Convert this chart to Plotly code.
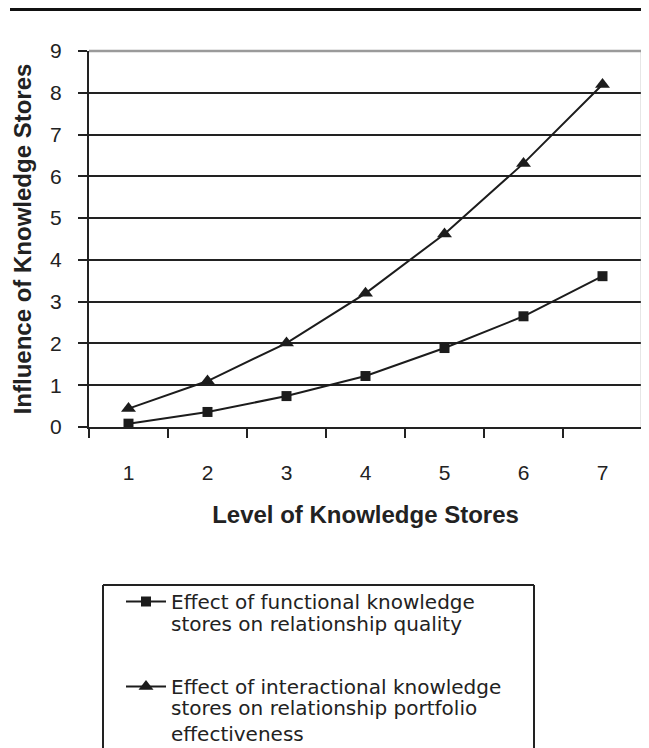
import plotly.graph_objects as go

# ---- data ----
levels = ["1", "2", "3", "4", "5", "6", "7"]
functional_quality = [0.08, 0.36, 0.74, 1.22, 1.89, 2.65, 3.61]
interactional_portfolio = [0.44, 1.10, 2.01, 3.20, 4.62, 6.31, 8.20]
y_tick_values = [0, 1, 2, 3, 4, 5, 6, 7, 8, 9]
legend_first_lines = ["Effect of functional knowledge",
                      "Effect of interactional knowledge"]
legend_more_lines = [["stores on relationship quality"],
                     ["stores on relationship portfolio", "effectiveness"]]
x_title = "Level of Knowledge Stores"
y_title = "Influence of Knowledge Stores"

# ---- geometry (page pixels; the page body has an 8px margin) ----
OFF = 8
PAGE_W, PAGE_H = 649, 748
W, H = PAGE_W - OFF, PAGE_H - OFF
PLOT_L, PLOT_R, PLOT_T, PLOT_B = 89, 642, 51, 427   # plot area on the page
L = PLOT_L - OFF
T = PLOT_T - OFF
R = PAGE_W - PLOT_R
B = PAGE_H - PLOT_B
PW = PLOT_R - PLOT_L
PH = PLOT_B - PLOT_T


def px(x):
    return (x - PLOT_L) / PW


def py(y):
    return (PLOT_B - y) / PH


INK = "#1c1c1c"
AX_FONT = "Liberation Sans, Arial, sans-serif"
LEG_FONT = "DejaVu Sans, Liberation Sans, sans-serif"
LEG_SIZE = 20

fig = go.Figure()
fig.add_trace(go.Scatter(
    x=levels, y=functional_quality, mode="lines+markers",
    name=legend_first_lines[0], legendgroup="a",
    line=dict(color=INK, width=2),
    marker=dict(symbol="square", size=10, color=INK),
))
fig.add_trace(go.Scatter(
    x=levels, y=interactional_portfolio, mode="lines+markers",
    name=legend_first_lines[1], legendgroup="b",
    line=dict(color=INK, width=2),
    marker=dict(symbol="triangle-up", size=13, color=INK),
))

fig.update_layout(
    width=W, height=H,
    margin=dict(l=L, r=R, t=T, b=B, autoexpand=False),
    paper_bgcolor="white", plot_bgcolor="white",
    showlegend=True,
    legend=dict(
        x=px(121), y=py(582), xanchor="left", yanchor="top",
        bgcolor="rgba(0,0,0,0)", borderwidth=0,
        font=dict(family=LEG_FONT, size=LEG_SIZE, color="#222"),
        traceorder="grouped", tracegroupgap=56, itemwidth=40,
    ),
    xaxis=dict(
        type="category", range=[-0.5, 6.5], tickson="boundaries",
        ticks="outside", ticklen=9, tickwidth=1.5, tickcolor="#222",
        showline=True, linecolor="#222", linewidth=2,
        showgrid=False, zeroline=False, automargin=False,
        tickfont=dict(family=AX_FONT, size=21, color="#222"),
        ticklabelstandoff=26,
        title=dict(text=x_title, standoff=23,
                   font=dict(family=AX_FONT, size=24, color="#222", weight="bold")),
    ),
    yaxis=dict(
        range=[0, 9], tickmode="array", tickvals=y_tick_values,
        ticks="outside", ticklen=9, tickwidth=1.5, tickcolor="#222",
        showline=True, linecolor="#222", linewidth=2,
        showgrid=True, gridcolor="#222", gridwidth=1.5,
        zeroline=False, automargin=False,
        tickfont=dict(family=AX_FONT, size=21, color="#222"),
        ticklabelstandoff=12,
        title=dict(text=y_title, standoff=12,
                   font=dict(family=AX_FONT, size=24, color="#222", weight="bold")),
    ),
)

shapes = [
    # grey plot-area frame (top and right)
    dict(type="line", xref="paper", yref="paper", x0=0, x1=1, y0=1, y1=1,
         line=dict(color="#9a9a9a", width=2.5)),
    dict(type="line", xref="paper", yref="paper", x0=1, x1=1, y0=0, y1=1,
         line=dict(color="#9a9a9a", width=2.5)),
    # heavy rule at the top of the page
    dict(type="line", xref="paper", yref="paper", x0=px(10), x1=px(670),
         y0=py(9.4), y1=py(9.4), line=dict(color="#111", width=3)),
    # legend frame (open at the bottom edge of the page)
    dict(type="line", xref="paper", yref="paper", x0=px(103), x1=px(534),
         y0=py(585), y1=py(585), line=dict(color="#222", width=2)),
    dict(type="line", xref="paper", yref="paper", x0=px(103), x1=px(103),
         y0=py(585), y1=py(770), line=dict(color="#222", width=2)),
    dict(type="line", xref="paper", yref="paper", x0=px(534), x1=px(534),
         y0=py(585), y1=py(770), line=dict(color="#222", width=2)),
]
fig.update_layout(shapes=shapes)

# continuation lines of the legend labels (one text block per entry)
block_centres = [624, 720.5]
annotations = []
for lines, yc in zip(legend_more_lines, block_centres):
    annotations.append(dict(
        text="<br>".join(lines), xref="paper", yref="paper",
        x=px(169), y=py(yc), xanchor="left", yanchor="middle",
        align="left", showarrow=False,
        font=dict(family=LEG_FONT, size=LEG_SIZE, color="#222"),
    ))
fig.update_layout(annotations=annotations)

fig.write_html("out.html")
